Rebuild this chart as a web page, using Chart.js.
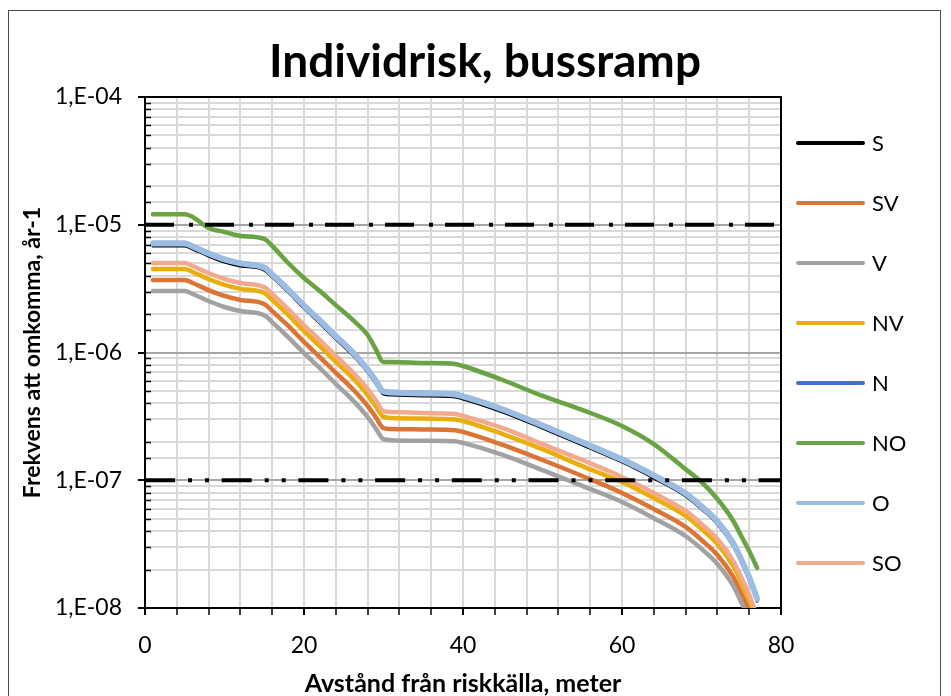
<!DOCTYPE html>
<html><head><meta charset="utf-8">
<script src="https://cdn.jsdelivr.net/npm/chart.js@4.4.1/dist/chart.umd.min.js"></script>
<style>html,body{margin:0;padding:0;background:#fff;}#wrap{width:951px;height:696px;position:relative;}</style>
</head><body><div id="wrap"><canvas id="c" width="951" height="696"></canvas></div>
<script>
const distance = [1,5,6,8,10,12,15,16,18,20,22,24,26,28,29,30,31,35,39,40,45,50,55,60,64,68,70,72,74,75,76,77];
const riskS  = [6.82e-6,6.82e-6,6.46e-6,5.69e-6,5.11e-6,4.76e-6,4.42e-6,3.90e-6,2.98e-6,2.23e-6,1.70e-6,1.28e-6,9.73e-7,7.04e-7,5.77e-7,4.73e-7,4.65e-7,4.57e-7,4.48e-7,4.33e-7,3.42e-7,2.56e-7,1.89e-7,1.39e-7,1.04e-7,7.53e-8,5.96e-8,4.55e-8,3.06e-8,2.29e-8,1.66e-8,1.13e-8];
const riskSV = [3.70e-6,3.70e-6,3.50e-6,3.08e-6,2.77e-6,2.58e-6,2.40e-6,2.11e-6,1.62e-6,1.21e-6,9.21e-7,6.94e-7,5.27e-7,3.82e-7,3.13e-7,2.56e-7,2.52e-7,2.50e-7,2.46e-7,2.39e-7,1.89e-7,1.44e-7,1.08e-7,7.95e-8,5.95e-8,4.31e-8,3.41e-8,2.60e-8,1.75e-8,1.31e-8,9.50e-9,6.46e-9];
const riskV  = [3.03e-6,3.03e-6,2.87e-6,2.53e-6,2.27e-6,2.11e-6,1.96e-6,1.73e-6,1.32e-6,9.90e-7,7.55e-7,5.68e-7,4.32e-7,3.13e-7,2.56e-7,2.10e-7,2.06e-7,2.04e-7,2.02e-7,1.96e-7,1.58e-7,1.20e-7,9.03e-8,6.76e-8,5.05e-8,3.66e-8,2.90e-8,2.21e-8,1.49e-8,1.11e-8,8.07e-9,5.49e-9];
const riskNV = [4.51e-6,4.51e-6,4.27e-6,3.76e-6,3.38e-6,3.15e-6,2.92e-6,2.58e-6,1.97e-6,1.47e-6,1.12e-6,8.46e-7,6.43e-7,4.65e-7,3.81e-7,3.13e-7,3.07e-7,3.04e-7,2.99e-7,2.91e-7,2.30e-7,1.75e-7,1.29e-7,9.69e-8,7.25e-8,5.25e-8,4.15e-8,3.17e-8,2.13e-8,1.60e-8,1.16e-8,7.88e-9];
const riskN  = [7.20e-6,7.20e-6,6.82e-6,6.00e-6,5.39e-6,5.02e-6,4.66e-6,4.11e-6,3.14e-6,2.35e-6,1.79e-6,1.35e-6,1.03e-6,7.43e-7,6.09e-7,4.99e-7,4.91e-7,4.82e-7,4.73e-7,4.57e-7,3.61e-7,2.70e-7,1.99e-7,1.47e-7,1.10e-7,7.94e-8,6.29e-8,4.80e-8,3.23e-8,2.42e-8,1.75e-8,1.19e-8];
const riskNO = [1.21e-5,1.21e-5,1.15e-5,9.43e-6,8.78e-6,8.17e-6,7.74e-6,6.82e-6,5.02e-6,3.83e-6,3.03e-6,2.35e-6,1.83e-6,1.37e-6,1.07e-6,8.43e-7,8.43e-7,8.28e-7,8.13e-7,7.84e-7,6.09e-7,4.57e-7,3.55e-7,2.66e-7,1.92e-7,1.22e-7,9.69e-8,7.13e-8,4.80e-8,3.66e-8,2.79e-8,2.06e-8];
const riskO  = [7.13e-6,7.13e-6,6.76e-6,5.95e-6,5.35e-6,4.98e-6,4.62e-6,4.08e-6,3.12e-6,2.33e-6,1.78e-6,1.34e-6,1.02e-6,7.36e-7,6.04e-7,4.95e-7,4.86e-7,4.78e-7,4.69e-7,4.53e-7,3.58e-7,2.68e-7,1.98e-7,1.45e-7,1.09e-7,7.88e-8,6.23e-8,4.76e-8,3.20e-8,2.40e-8,1.74e-8,1.18e-8];
const riskSO = [5.02e-6,5.02e-6,4.75e-6,4.19e-6,3.76e-6,3.50e-6,3.25e-6,2.87e-6,2.19e-6,1.64e-6,1.25e-6,9.42e-7,7.16e-7,5.18e-7,4.25e-7,3.48e-7,3.42e-7,3.36e-7,3.30e-7,3.19e-7,2.56e-7,1.92e-7,1.44e-7,1.06e-7,7.94e-8,5.75e-8,4.55e-8,3.47e-8,2.33e-8,1.75e-8,1.27e-8,8.62e-9];
const seriesNames = ['S','SV','V','NV','N','NO','O','SO'];
const limitX = [0, 80];
const limitUpper = [1e-5, 1e-5];
const limitLower = [1e-7, 1e-7];
const xTickLabels = [0, 20, 40, 60, 80];
const yTickLabels = ['1,E-08','1,E-07','1,E-06','1,E-05','1,E-04'];
const chartTitle = 'Individrisk, bussramp';

const FONT = 'Lato, "Open Sans", sans-serif';
const seriesData = [riskS, riskSV, riskV, riskNV, riskN, riskNO, riskO, riskSO];
const colors = ['#000000','#DC7433','#A2A2A2','#E9AE0C','#4472C4','#6AA343','#9CBDE3','#F3A98E'];
const widths = [3, 4.5, 4.5, 4.5, 4.5, 4.5, 6, 4.5];
const orders = [8, 7, 6, 5, 4, 3, 2, 1];

const datasets = seriesNames.map((name, i) => ({
  label: name,
  data: distance.map((x, j) => ({x: x, y: seriesData[i][j]})),
  borderColor: colors[i],
  backgroundColor: colors[i],
  borderWidth: widths[i],
  pointRadius: 0,
  fill: false,
  cubicInterpolationMode: 'monotone',
  borderCapStyle: 'round',
  borderJoinStyle: 'round',
  order: orders[i]
}));
datasets.push({
  label: 'limitUpper', data: limitX.map((x, j) => ({x: x, y: limitUpper[j]})),
  borderColor: '#000', borderWidth: 4, pointRadius: 0, borderDash: [29, 15, 4, 12], order: 0
});
datasets.push({
  label: 'limitLower', data: limitX.map((x, j) => ({x: x, y: limitLower[j]})),
  borderColor: '#000', borderWidth: 4, pointRadius: 0, borderDash: [30, 13, 4, 13, 4, 12.7], order: 0
});

function isDecade(v) { const e = Math.log10(v); return Math.abs(e - Math.round(e)) < 1e-6; }

const extras = {
  id: 'extras',
  beforeDraw(chart) {
    const ctx = chart.ctx;
    ctx.save();
    ctx.fillStyle = '#fff';
    ctx.fillRect(0, 0, chart.width, chart.height);
    ctx.strokeStyle = '#4d4d4d';
    ctx.lineWidth = 1;
    ctx.strokeRect(8.5, 10.5, 932, 720);
    ctx.restore();
  },
  afterDraw(chart) {
    const ctx = chart.ctx;
    const a = chart.chartArea;
    const ys = chart.scales.y;
    ctx.save();
    // title
    ctx.fillStyle = '#000';
    ctx.font = 'bold 46px ' + FONT;
    ctx.textAlign = 'center';
    ctx.textBaseline = 'alphabetic';
    ctx.fillText(chartTitle, 485, 77);
    // plot frame top/right
    ctx.strokeStyle = '#000';
    ctx.lineWidth = 2;
    ctx.beginPath();
    ctx.moveTo(a.left, a.top); ctx.lineTo(a.right, a.top); ctx.lineTo(a.right, a.bottom);
    ctx.stroke();
    // minor ticks inside y axis
    ctx.lineWidth = 1.5;
    ys.ticks.forEach(t => {
      if (!isDecade(t.value)) {
        const y = Math.round(ys.getPixelForValue(t.value)) + 0.5;
        ctx.beginPath(); ctx.moveTo(a.left, y); ctx.lineTo(a.left + 6, y); ctx.stroke();
      }
    });
    // legend
    const cy = (a.top + a.bottom) / 2;
    ctx.font = '22px ' + FONT;
    ctx.textBaseline = 'middle';
    ctx.textAlign = 'left';
    seriesNames.forEach((name, i) => {
      const y = Math.round(cy + (i - 3.5) * 60);
      ctx.strokeStyle = colors[i];
      ctx.lineWidth = 4;
      ctx.lineCap = 'round';
      ctx.beginPath(); ctx.moveTo(a.right + 17, y); ctx.lineTo(a.right + 82, y); ctx.stroke();
      ctx.fillStyle = '#000';
      ctx.fillText(name, a.right + 91, y + 1);
    });
    ctx.restore();
  }
};

new Chart(document.getElementById('c'), {
  type: 'line',
  data: { datasets },
  plugins: [extras],
  options: {
    responsive: false,
    animation: false,
    layout: { padding: { left: 0, right: 170, top: 97, bottom: 0 } },
    plugins: {
      legend: { display: false },
      tooltip: { enabled: false },
      title: { display: false }
    },
    scales: {
      x: {
        type: 'linear', min: 0, max: 80,
        afterFit: s => { s.height = 88; },
        ticks: {
          stepSize: 4, autoSkip: false, maxRotation: 0, color: '#000',
          font: { family: FONT, size: 23 }, padding: 17,
          callback: v => xTickLabels.includes(v) ? String(v) : ''
        },
        grid: { color: '#d9d9d9', lineWidth: 2, tickLength: 7,
          tickColor: c => '#000', tickWidth: c => (xTickLabels.includes(c.tick.value) ? 2 : 1.5) },
        border: { color: '#000', width: 2 },
        title: { display: true, text: 'Avstånd från riskkälla, meter', color: '#000',
          font: { family: FONT, size: 25, weight: 'bold', lineHeight: 1.2 }, padding: { top: 0, bottom: -3 } }
      },
      y: {
        type: 'logarithmic', min: 1e-8, max: 1e-4,
        afterFit: s => { s.width = 145; },
        ticks: {
          autoSkip: false, color: '#000', font: { family: FONT, size: 23 }, padding: 16,
          callback: v => isDecade(v) ? yTickLabels[Math.round(Math.log10(v)) + 8] : ''
        },
        grid: { lineWidth: 2, tickLength: 7,
          color: c => isDecade(c.tick.value) ? '#a6a6a6' : '#d9d9d9',
          tickColor: c => isDecade(c.tick.value) ? '#000' : 'rgba(0,0,0,0)' },
        border: { color: '#000', width: 2 },
        title: { display: true, text: 'Frekvens att omkomma, år-1', color: '#000',
          font: { family: FONT, size: 23, weight: 'bold', lineHeight: 1.2 }, padding: { top: 19, bottom: 0 } }
      }
    }
  }
});
</script></body></html>
